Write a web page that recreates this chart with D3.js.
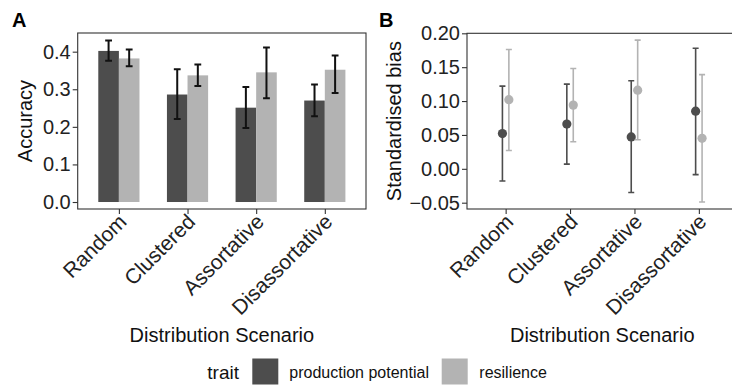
<!DOCTYPE html>
<html>
<head>
<meta charset="utf-8">
<script src="https://cdn.jsdelivr.net/npm/d3@7/dist/d3.min.js"></script>
<style>
  html, body { margin: 0; padding: 0; background: #fff; }
  svg { display: block; }
  text { font-family: "Liberation Sans", Arial, Helvetica, sans-serif; }
</style>
</head>
<body>
<svg id="chart" width="732" height="385"></svg>
<script>
// Scenario categories and trait groups
const categories = ["Random", "Clustered", "Assortative", "Disassortative"];
const traits = ["production potential", "resilience"];
const traitColors = ["#4d4d4d", "#b3b3b3"];

// Panel A: accuracy (mean with interval bounds)
const accuracyProd   = [0.402, 0.286, 0.251, 0.270];
const accuracyProdLo = [0.376, 0.221, 0.197, 0.228];
const accuracyProdHi = [0.430, 0.353, 0.306, 0.313];
const accuracyRes    = [0.382, 0.337, 0.345, 0.352];
const accuracyResLo  = [0.361, 0.309, 0.276, 0.290];
const accuracyResHi  = [0.406, 0.366, 0.411, 0.390];

// Panel B: standardised bias (mean with interval bounds)
const biasProd   = [0.052, 0.066, 0.047, 0.085];
const biasProdLo = [-0.018, 0.007, -0.035, -0.0085];
const biasProdHi = [0.122, 0.125, 0.130, 0.178];
const biasRes    = [0.102, 0.094, 0.116, 0.045];
const biasResLo  = [0.027, 0.040, 0.043, -0.049];
const biasResHi  = [0.176, 0.148, 0.190, 0.139];

// Tick values
const accuracyTicks = [0, 0.1, 0.2, 0.3, 0.4];
const biasTicks = [-0.05, 0, 0.05, 0.10, 0.15, 0.20];

const svg = d3.select("#chart");

function rows(means, lo, hi) {
  return categories.map((c, i) => ({ cat: c, mean: means[i], lo: lo[i], hi: hi[i] }));
}
const accData = [rows(accuracyProd, accuracyProdLo, accuracyProdHi), rows(accuracyRes, accuracyResLo, accuracyResHi)];
const biasData = [rows(biasProd, biasProdLo, biasProdHi), rows(biasRes, biasResLo, biasResHi)];

const axisColor = "#333";

function styleAxis(g) {
  g.select(".domain").remove();
  g.selectAll(".tick line").attr("stroke", axisColor).attr("stroke-width", 1.1);
  g.selectAll(".tick text").attr("fill", "#222").style("font-size", "20px");
}

function drawFrame(box, y, yTicks, fmt, yTitle, letter, letterX) {
  const x = d3.scalePoint().domain(categories).range([box.left, box.right]).padding(0.6);

  // panel border
  svg.append("rect")
    .attr("x", box.left).attr("y", box.top)
    .attr("width", box.right - box.left).attr("height", box.bottom - box.top)
    .attr("fill", "none").attr("stroke", axisColor).attr("stroke-width", 1.1);

  const gy = svg.append("g").attr("transform", `translate(${box.left},0)`)
    .call(d3.axisLeft(y).tickValues(yTicks).tickFormat(fmt).tickSize(5).tickPadding(2));
  styleAxis(gy);

  const gx = svg.append("g").attr("transform", `translate(0,${box.bottom})`)
    .call(d3.axisBottom(x).tickSize(5).tickFormat(""));
  styleAxis(gx);

  // rotated category labels
  svg.append("g").selectAll("text").data(categories).join("text")
    .attr("transform", d => `translate(${x(d) + 9},${box.bottom + 14}) rotate(-45)`)
    .attr("text-anchor", "end")
    .attr("fill", "#222")
    .style("font-size", "21px")
    .text(d => d);

  // axis titles
  svg.append("text")
    .attr("x", (box.left + box.right) / 2)
    .attr("y", 341.5)
    .attr("text-anchor", "middle")
    .style("font-size", "20px")
    .attr("fill", "#111")
    .text("Distribution Scenario");

  svg.append("text")
    .attr("transform", `translate(${box.titleX},${(box.top + box.bottom) / 2}) rotate(-90)`)
    .attr("text-anchor", "middle")
    .style("font-size", "20px")
    .attr("fill", "#111")
    .text(yTitle);

  svg.append("text")
    .attr("x", letterX).attr("y", 27)
    .style("font-size", "20px").style("font-weight", "bold")
    .attr("fill", "#000")
    .text(letter);

  return x;
}

// ---------- Panel A: grouped bars with error bars ----------
const boxA = { left: 77.7, right: 366, top: 33, bottom: 209, titleX: 32 };
const yA = d3.scaleLinear().domain([-0.0186, 0.4497]).range([boxA.bottom, boxA.top]);
const xA = drawFrame(boxA, yA, accuracyTicks, d3.format(".1f"), "Accuracy", "A", 12);
const bwA = xA.step() * 0.3;

accData.forEach((series, k) => {
  const off = k === 0 ? -bwA : 0;
  svg.append("g").selectAll("rect").data(series).join("rect")
    .attr("x", d => xA(d.cat) + off)
    .attr("y", d => yA(d.mean))
    .attr("width", bwA)
    .attr("height", d => yA(0) - yA(d.mean))
    .attr("fill", traitColors[k]);
});
accData.forEach((series, k) => {
  const cx = d => xA(d.cat) + (k === 0 ? -bwA / 2 : bwA / 2);
  const cap = 3.4;
  const g = svg.append("g").attr("stroke", "#111").attr("stroke-width", 2).attr("fill", "none");
  g.selectAll("path").data(series).join("path")
    .attr("d", d => `M${cx(d) - cap},${yA(d.hi)}H${cx(d) + cap}M${cx(d)},${yA(d.hi)}V${yA(d.lo)}M${cx(d) - cap},${yA(d.lo)}H${cx(d) + cap}`);
});

// ---------- Panel B: dodged points with intervals ----------
const boxB = { left: 467, right: 737.5, top: 33.3, bottom: 209, titleX: 401 };
const yB = d3.scaleLinear().domain([-0.0593, 0.2]).range([boxB.bottom, boxB.top]);
const xB = drawFrame(boxB, yB, biasTicks, d3.format(".2f"), "Standardised bias", "B", 379);
const dodgeB = xB.step() * 0.05;

biasData.forEach((series, k) => {
  const cx = d => xB(d.cat) + (k === 0 ? -dodgeB : dodgeB);
  const cap = 3;
  const g = svg.append("g").attr("stroke", traitColors[k]).attr("stroke-width", 1.6).attr("fill", "none");
  g.selectAll("path").data(series).join("path")
    .attr("d", d => `M${cx(d) - cap},${yB(d.hi)}H${cx(d) + cap}M${cx(d)},${yB(d.hi)}V${yB(d.lo)}M${cx(d) - cap},${yB(d.lo)}H${cx(d) + cap}`);
  svg.append("g").selectAll("circle").data(series).join("circle")
    .attr("cx", cx).attr("cy", d => yB(d.mean)).attr("r", 4.6)
    .attr("fill", traitColors[k]);
});

// ---------- Legend ----------
const legend = svg.append("g");
legend.append("text").attr("x", 207.3).attr("y", 378.5)
  .style("font-size", "19px").attr("fill", "#111").text("trait");
const keyX = [252.3, 441.7];
const labelX = [289.3, 479.3];
traits.forEach((t, k) => {
  legend.append("rect").attr("x", keyX[k]).attr("y", 358.5).attr("width", 26).attr("height", 26)
    .attr("fill", traitColors[k]);
  legend.append("text").attr("x", labelX[k]).attr("y", 378)
    .style("font-size", "16px").attr("fill", "#111").text(t);
});
</script>
</body>
</html>
